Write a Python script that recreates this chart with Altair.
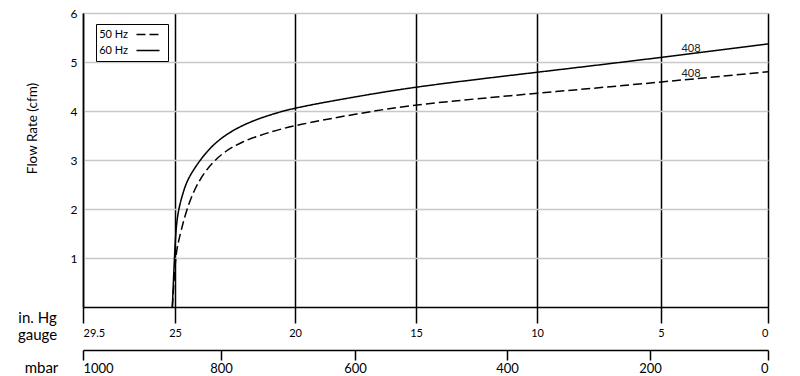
import altair as alt
import pandas as pd

# ---- data ----
hz60_inhg = [25.13, 25.03, 24.96, 24.86, 24.67, 24.46, 23.97, 23.50, 22.92, 22.08, 21.13, 20.0, 17.5, 15.0, 10.0, 5.0, 0.0]
hz60_flow = [0.0, 1.00, 1.61, 1.98, 2.33, 2.63, 2.99, 3.27, 3.51, 3.74, 3.91, 4.07, 4.29, 4.50, 4.79, 5.09, 5.37]
hz50_inhg = [25.13, 24.98, 24.89, 24.72, 24.52, 24.18, 23.76, 23.35, 22.93, 22.25, 21.13, 20.0, 17.5, 15.0, 10.0, 5.0, 0.0]
hz50_flow = [0.0, 1.00, 1.27, 1.61, 1.98, 2.42, 2.76, 2.99, 3.17, 3.37, 3.56, 3.71, 3.94, 4.14, 4.36, 4.59, 4.80]

inhg_ticks = [29.5, 25, 20, 15, 10, 5, 0]
mbar_ticks = [1000, 800, 600, 400, 200, 0]
flow_ticks = [1, 2, 3, 4, 5, 6]

label_text = ["408", "408"]
label_inhg = [3.6, 3.6]
label_flow = [5.17, 4.66]

# ---- styling constants (pixel layout of the uneven printed scales) ----
W, H = 685, 294
INHG_RANGE = [0, 92, 212, 333, 454, 578, 685]
MBAR_RANGE = [0, 138, 272, 424, 567, 685]
FONT = "Lato"
LEGEND_SYMBOL = "M15,0H26.5"  # short stroke drawn to the right of the label

rows = []
for x, y in zip(hz50_inhg, hz50_flow):
    rows.append({"inHg": x, "flow": y, "series": "50 Hz"})
for x, y in zip(hz60_inhg, hz60_flow):
    rows.append({"inHg": x, "flow": y, "series": "60 Hz"})
df = pd.DataFrame(rows)

lab_df = pd.DataFrame({"inHg": label_inhg, "flow": label_flow, "text": label_text})
mbar_df = pd.DataFrame({"mbar": mbar_ticks})

x_inhg = alt.X(
    "inHg:Q",
    scale=alt.Scale(domain=inhg_ticks, range=INHG_RANGE, nice=False, zero=False),
    axis=alt.Axis(
        orient="bottom", values=inhg_ticks, labelExpr="toString(datum.value)",
        domainColor="black", domainWidth=1.5,
        ticks=True, tickColor="black", tickWidth=1.5, tickSize=16,
        labelFontSize=11, labelPadding=4, labelColor="black", labelFont=FONT,
        grid=True, gridColor="black", gridWidth=1.5,
        title=["in. Hg", "gauge"], titleX=-46, titleY=10, titleAlign="center",
        titleBaseline="middle", titleFontSize=15, titleFontWeight="normal",
        titleLineHeight=17, titleFont=FONT, titleColor="black",
    ),
)
y_flow = alt.Y(
    "flow:Q",
    scale=alt.Scale(domain=[0, 6], nice=False, zero=False),
    axis=alt.Axis(
        values=flow_ticks, ticks=False,
        domainColor="black", domainWidth=1.5,
        labelFontSize=12, labelPadding=6, labelColor="black", labelFont=FONT,
        grid=True, gridColor="#c8c8c8", gridWidth=1.5,
        title="Flow Rate (cfm)", titleX=-51, titleY=115, titleAngle=270,
        titleAlign="center", titleBaseline="middle", titleFontSize=13.5,
        titleFontWeight="normal", titleFont=FONT, titleColor="black",
    ),
)

lines = alt.Chart(df).mark_line(color="black", strokeWidth=1.5, interpolate="basis").encode(
    x=x_inhg,
    y=y_flow,
    order=alt.Order("inHg:Q", sort="descending"),
    strokeDash=alt.StrokeDash(
        "series:N",
        scale=alt.Scale(domain=["50 Hz", "60 Hz"], range=[[9, 4], [1, 0]]),
        legend=alt.Legend(
            title=None, orient="none", legendX=13, legendY=11,
            strokeColor="black", fillColor="white", padding=5,
            symbolType=LEGEND_SYMBOL, symbolSize=16, symbolStrokeWidth=1.5,
            symbolStrokeColor="black", symbolOffset=0, labelOffset=16,
            labelAlign="right",
            labelFontSize=11, labelFont=FONT, labelColor="black", rowPadding=4,
        ),
    ),
)

labels = alt.Chart(lab_df).mark_text(
    font=FONT, fontSize=11, color="#222", baseline="bottom", align="center"
).encode(x="inHg:Q", y="flow:Q", text="text:N")

mbar_layer = alt.Chart(mbar_df).mark_point(opacity=0).encode(
    x=alt.X(
        "mbar:Q",
        scale=alt.Scale(domain=mbar_ticks, range=MBAR_RANGE, nice=False, zero=False),
        axis=alt.Axis(
            orient="bottom", offset=43, values=mbar_ticks, labelExpr="toString(datum.value)",
            domainColor="black", domainWidth=1.5,
            ticks=True, tickColor="black", tickWidth=1.5, tickSize=10,
            labelFontSize=13, labelPadding=2, labelColor="black", labelFont=FONT,
            grid=False,
            title="mbar", titleX=-42, titleY=17, titleAlign="center",
            titleBaseline="middle", titleFontSize=15, titleFontWeight="normal",
            titleFont=FONT, titleColor="black",
        ),
    ),
    y=alt.value(0),
)

chart = alt.layer(alt.layer(lines, labels), mbar_layer).resolve_scale(x="independent").properties(
    width=W, height=H,
    autosize=alt.AutoSizeParams(type="none"),
    padding={"left": 83, "top": 13, "right": 32, "bottom": 69},
).configure_view(stroke="black", strokeWidth=1.5).configure(background="white")

chart.save("out.html", embed_options={"renderer": "svg", "actions": False})
